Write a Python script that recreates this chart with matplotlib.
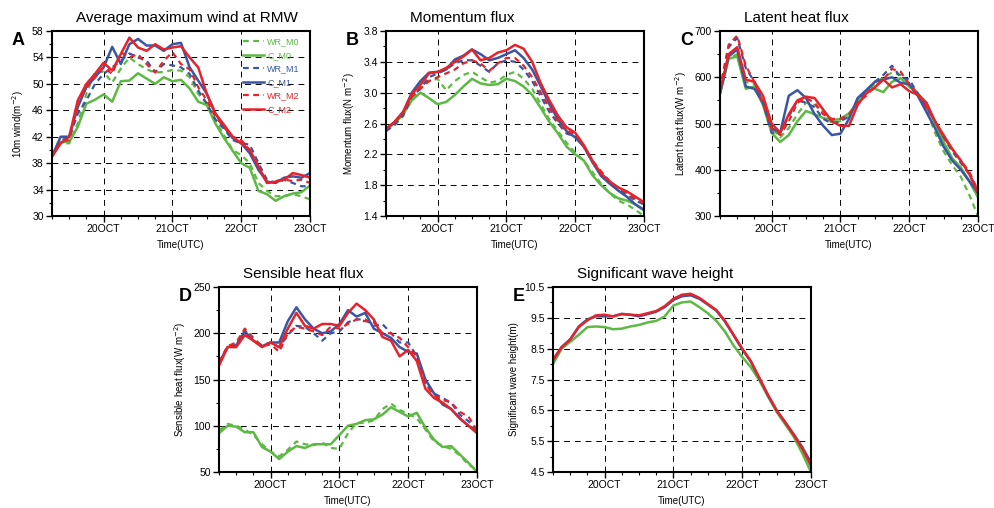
import numpy as np
import matplotlib.pyplot as plt
from matplotlib.ticker import MultipleLocator

plt.rcParams['font.family'] = ['Liberation Sans', 'DejaVu Sans']

# 3-hourly output, 19OCT 06Z - 23OCT 00Z (days relative to 20OCT 00Z)
hours = np.arange(-18, 73, 3)
t = hours / 24.0

# A: average maximum wind at RMW
wind_wr_m0 = [39.2, 41.0, 41.0, 44.0, 48.5, 51.8, 51.8, 50.2, 52.3, 54.0, 53.0, 52.2, 51.7, 51.8, 52.1, 52.0,
              51.0, 48.5, 47.0, 44.5, 42.2, 40.0, 39.2, 38.0, 35.0, 33.8, 33.0, 33.0, 33.3, 33.0, 32.5]
wind_c_m0 = [39.0, 41.2, 41.2, 43.5, 47.0, 47.6, 48.4, 47.3, 50.4, 50.5, 51.6, 50.8, 50.0, 51.0, 50.4, 50.6,
             49.3, 47.3, 46.8, 44.0, 41.8, 39.9, 38.0, 37.3, 33.8, 33.3, 32.3, 33.0, 33.4, 33.6, 34.6]
wind_wr_m1 = [39.0, 41.5, 41.8, 45.5, 47.5, 50.0, 51.5, 52.5, 53.5, 54.6, 54.0, 53.5, 51.8, 53.0, 52.8, 52.5,
              51.5, 49.0, 47.0, 44.6, 43.2, 41.5, 41.0, 40.8, 38.0, 35.5, 35.0, 35.5, 35.0, 34.5, 34.5]
wind_c_m1 = [39.0, 42.0, 42.0, 46.5, 49.5, 51.0, 52.5, 55.6, 53.0, 56.0, 56.8, 55.8, 55.8, 55.0, 56.0, 56.2,
             52.5, 50.5, 48.5, 45.5, 43.5, 41.8, 41.0, 39.5, 37.0, 35.2, 35.0, 35.8, 36.0, 35.8, 36.5]
wind_wr_m2 = [39.0, 41.3, 41.5, 47.0, 49.5, 51.0, 52.5, 51.5, 54.8, 54.0, 54.5, 53.0, 51.7, 53.5, 54.8, 53.0,
              52.2, 49.5, 47.5, 45.0, 43.5, 42.0, 41.5, 40.0, 37.5, 35.0, 35.3, 35.5, 35.3, 35.5, 35.0]
wind_c_m2 = [39.0, 41.0, 42.0, 47.5, 50.0, 51.5, 53.2, 52.0, 54.5, 57.0, 55.5, 55.0, 56.0, 55.2, 55.5, 55.7,
             54.0, 52.5, 48.5, 45.5, 43.8, 42.0, 41.0, 40.0, 37.5, 35.0, 35.2, 35.5, 36.5, 36.2, 35.8]

# B: momentum flux
mom_wr_m0 = [2.52, 2.60, 2.72, 2.90, 3.07, 3.15, 3.18, 3.03, 3.15, 3.23, 3.27, 3.20, 3.13, 3.15, 3.23, 3.27,
             3.18, 3.05, 2.85, 2.65, 2.50, 2.35, 2.22, 2.12, 1.97, 1.82, 1.70, 1.60, 1.55, 1.48, 1.40]
mom_c_m0 = [2.53, 2.60, 2.72, 2.90, 3.00, 2.93, 2.85, 2.88, 2.97, 3.08, 3.18, 3.12, 3.10, 3.11, 3.18, 3.15,
            3.08, 2.97, 2.80, 2.62, 2.47, 2.30, 2.20, 2.12, 1.93, 1.80, 1.70, 1.63, 1.60, 1.55, 1.47]
mom_wr_m1 = [2.50, 2.58, 2.70, 2.95, 3.05, 3.20, 3.25, 3.30, 3.38, 3.42, 3.42, 3.35, 3.27, 3.38, 3.42, 3.40,
             3.30, 3.15, 2.95, 2.75, 2.60, 2.47, 2.43, 2.30, 2.10, 1.97, 1.85, 1.75, 1.68, 1.60, 1.55]
mom_c_m1 = [2.53, 2.62, 2.75, 3.00, 3.15, 3.26, 3.27, 3.30, 3.43, 3.48, 3.56, 3.50, 3.42, 3.45, 3.50, 3.55,
            3.45, 3.30, 3.08, 2.85, 2.65, 2.50, 2.42, 2.30, 2.10, 1.92, 1.82, 1.73, 1.65, 1.55, 1.48]
mom_wr_m2 = [2.53, 2.62, 2.75, 2.95, 3.05, 3.15, 3.20, 3.25, 3.30, 3.38, 3.42, 3.38, 3.28, 3.38, 3.45, 3.45,
             3.35, 3.20, 3.00, 2.80, 2.63, 2.50, 2.47, 2.30, 2.12, 1.98, 1.85, 1.77, 1.70, 1.62, 1.57]
mom_c_m2 = [2.53, 2.62, 2.75, 2.98, 3.10, 3.25, 3.27, 3.32, 3.40, 3.47, 3.56, 3.42, 3.45, 3.52, 3.55, 3.62,
            3.57, 3.40, 3.12, 2.90, 2.70, 2.55, 2.48, 2.32, 2.12, 1.95, 1.85, 1.77, 1.72, 1.65, 1.58]

# C: latent heat flux
lh_wr_m0 = [565, 640, 650, 590, 585, 545, 490, 470, 490, 520, 545, 540, 525, 500, 505, 515,
            550, 570, 585, 600, 610, 605, 585, 560, 530, 480, 440, 410, 385, 345, 300]
lh_c_m0 = [565, 640, 645, 575, 580, 540, 480, 460, 475, 505, 527, 520, 512, 507, 510, 522,
           545, 570, 575, 568, 590, 598, 580, 565, 545, 500, 460, 425, 405, 375, 340]
lh_wr_m1 = [575, 665, 685, 620, 590, 545, 480, 480, 515, 550, 545, 535, 510, 500, 505, 515,
            550, 570, 590, 605, 625, 600, 595, 565, 535, 505, 470, 440, 415, 390, 355]
lh_c_m1 = [565, 645, 660, 580, 575, 545, 490, 480, 560, 572, 555, 520, 495, 475, 478, 510,
           555, 572, 590, 595, 600, 588, 585, 560, 525, 490, 450, 420, 400, 375, 350]
lh_wr_m2 = [575, 670, 690, 625, 590, 545, 490, 475, 505, 545, 555, 545, 520, 510, 510, 520,
            545, 560, 580, 595, 618, 612, 585, 565, 535, 505, 470, 445, 420, 395, 355]
lh_c_m2 = [570, 650, 665, 595, 590, 560, 500, 480, 520, 550, 558, 555, 530, 505, 495, 495,
           540, 565, 578, 595, 578, 585, 570, 562, 545, 505, 475, 445, 420, 390, 350]

# D: sensible heat flux
sh_wr_m0 = [95, 102, 100, 96, 90, 80, 72, 67, 74, 83, 80, 79, 82, 76, 75, 92,
            103, 103, 106, 118, 124, 117, 113, 108, 96, 83, 78, 75, 68, 58, 52]
sh_c_m0 = [92, 100, 99, 93, 93, 77, 72, 64, 72, 78, 76, 80, 80, 80, 90, 100,
           102, 106, 107, 112, 120, 115, 110, 114, 98, 85, 77, 78, 69, 60, 50]
sh_wr_m1 = [168, 186, 188, 203, 192, 187, 190, 185, 198, 208, 207, 200, 192, 200, 202, 212,
            215, 215, 208, 210, 200, 190, 190, 175, 145, 135, 130, 125, 112, 105, 95]
sh_c_m1 = [168, 185, 187, 202, 192, 186, 190, 190, 213, 228, 215, 205, 200, 202, 210, 225,
           218, 222, 205, 200, 195, 185, 180, 178, 150, 135, 123, 118, 108, 100, 95]
sh_wr_m2 = [168, 186, 190, 205, 195, 186, 188, 180, 200, 207, 205, 202, 198, 207, 205, 210,
            215, 213, 212, 200, 200, 195, 185, 175, 145, 133, 128, 125, 115, 110, 95]
sh_c_m2 = [165, 185, 185, 198, 192, 185, 190, 185, 205, 222, 208, 205, 210, 210, 208, 222,
           232, 225, 215, 196, 192, 175, 182, 170, 140, 130, 125, 118, 108, 100, 92]

# E: significant wave height (coupled runs only)
swh_m0 = [8.0, 8.5, 8.72, 8.95, 9.2, 9.22, 9.2, 9.13, 9.15, 9.22, 9.27, 9.35, 9.4, 9.55, 9.9, 10.0,
          10.03, 9.85, 9.65, 9.4, 9.05, 8.6, 8.23, 7.9, 7.47, 6.95, 6.45, 6.05, 5.64, 5.1, 4.5]
swh_m1 = [8.12, 8.55, 8.8, 9.22, 9.45, 9.55, 9.55, 9.55, 9.63, 9.6, 9.55, 9.62, 9.7, 9.85, 10.08, 10.2,
          10.23, 10.12, 9.93, 9.73, 9.38, 8.93, 8.48, 8.08, 7.53, 6.98, 6.5, 6.12, 5.72, 5.3, 4.8]
swh_m2 = [8.15, 8.55, 8.8, 9.2, 9.42, 9.58, 9.6, 9.55, 9.62, 9.6, 9.58, 9.65, 9.72, 9.88, 10.12, 10.25,
          10.28, 10.15, 9.95, 9.75, 9.4, 8.95, 8.5, 8.1, 7.55, 7.0, 6.5, 6.1, 5.7, 5.25, 4.7]

green = '#5db944'
blue = '#3a55a4'
red = '#e5232a'
names = ['WR_M0', 'C_M0', 'WR_M1', 'C_M1', 'WR_M2', 'C_M2']
colors = [green, green, blue, blue, red, red]
styles = ['--', '-', '--', '-', '--', '-']

fig = plt.figure(figsize=(9.94, 5.08), dpi=100)
W, H = 994, 508


def add_panel(left, top, letter, title, ylabel, ylim, ymajor, yfmt, series, clrs, stls, labels=None):
    ax = fig.add_axes([left / W, 1 - (top + 185) / H, 258 / W, 185 / H])
    for y, c, s, lab in zip(series, clrs, stls, labels or [None] * len(series)):
        if s == '--':
            ax.plot(t, y, color=c, lw=1.6, dashes=(2.6, 2.0), label=lab)
        else:
            ax.plot(t, y, color=c, lw=1.8, label=lab)
    ax.set_xlim(-0.75, 3)
    ax.set_ylim(*ylim)
    ax.set_xticks([0, 1, 2, 3])
    ax.set_xticklabels(['20OCT', '21OCT', '22OCT', '23OCT'])
    ax.xaxis.set_minor_locator(MultipleLocator(0.25))
    yt = np.arange(ylim[0], ylim[1] + ymajor / 10, ymajor)
    ax.set_yticks(yt)
    ax.set_yticklabels([yfmt.format(v) for v in yt])
    ax.set_yticks(np.arange(ylim[0] + ymajor / 2, ylim[1], ymajor), minor=True)
    ax.tick_params(which='major', direction='out', length=4, width=1, labelsize=7.5, pad=2)
    ax.tick_params(which='minor', direction='out', length=2.5, width=0.8)
    ax.grid(True, which='major', color='black', lw=0.7, dashes=(6, 5))
    for sp in ax.spines.values():
        sp.set_linewidth(1.5)
    ax.set_xlabel('Time(UTC)', fontsize=7, labelpad=4)
    ax.set_ylabel(ylabel, fontsize=7, labelpad=4)
    ax.text(24 / 258, 1.035, title, transform=ax.transAxes, fontsize=11, ha='left', va='bottom')
    ax.text(-0.155, 0.995, letter, transform=ax.transAxes, fontsize=13, fontweight='bold',
            ha='left', va='top')
    return ax


axA = add_panel(52, 31, 'A', 'Average maximum wind at RMW', '10m wind(m$^{-2}$)', (30, 58), 4, '{:.0f}',
                [wind_wr_m0, wind_c_m0, wind_wr_m1, wind_c_m1, wind_wr_m2, wind_c_m2],
                colors, styles, names)
leg = axA.legend(loc='upper left', bbox_to_anchor=(0.74, 0.965), frameon=False, fontsize=6.5,
                 handlelength=2.3, handletextpad=0.4, labelspacing=0.5, borderpad=0, borderaxespad=0)
for txt, c in zip(leg.get_texts(), colors):
    txt.set_color(c)

add_panel(386, 31, 'B', 'Momentum flux', 'Momentum flux(N m$^{-2}$)', (1.4, 3.8), 0.4, '{:.1f}',
          [mom_wr_m0, mom_c_m0, mom_wr_m1, mom_c_m1, mom_wr_m2, mom_c_m2], colors, styles)
add_panel(720, 31, 'C', 'Latent heat flux', 'Latent heat flux(W m$^{-2}$)', (300, 700), 100, '{:.0f}',
          [lh_wr_m0, lh_c_m0, lh_wr_m1, lh_c_m1, lh_wr_m2, lh_c_m2], colors, styles)
add_panel(219, 287, 'D', 'Sensible heat flux', 'Sensible heat flux(W m$^{-2}$)', (50, 250), 50, '{:.0f}',
          [sh_wr_m0, sh_c_m0, sh_wr_m1, sh_c_m1, sh_wr_m2, sh_c_m2], colors, styles)
add_panel(553, 287, 'E', 'Significant wave height', 'Significant wave height(m)', (4.5, 10.5), 1.0, '{:.1f}',
          [swh_m0, swh_m1, swh_m2], [green, blue, red], ['-', '-', '-'])

fig.savefig('out.png', dpi=100)
